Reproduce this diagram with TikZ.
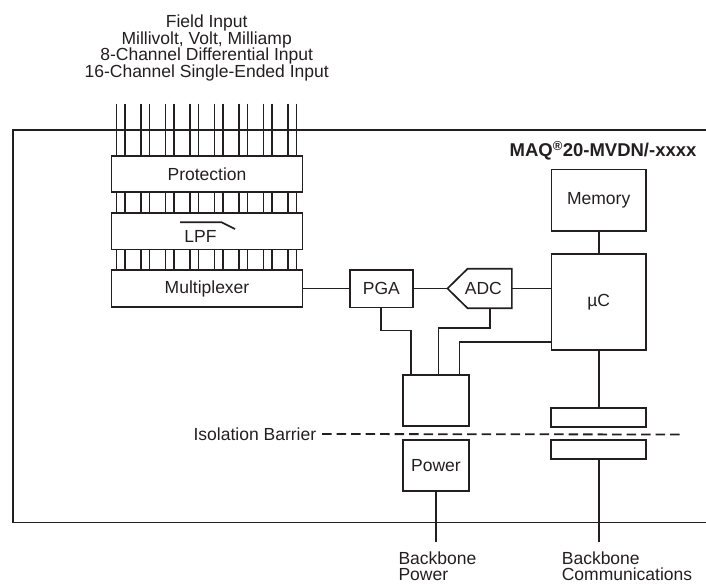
\documentclass[tikz,border=0pt]{standalone}
\usepackage{fontspec}
\setmainfont{Liberation Sans}
\usepackage{tikz}
\usetikzlibrary{arrows.meta,positioning,calc}
\definecolor{ink}{HTML}{231F20}

\begin{document}
\begin{tikzpicture}[
  x=1pt, y=-1pt, color=ink, line width=1.7pt,
  font=\fontsize{17.5}{16.7}\selectfont,
  chan/.style={draw, inner sep=0pt, minimum width=191pt, minimum height=36.5pt},
  blk/.style={draw, inner sep=0pt, minimum width=65.4pt, minimum height=51pt},
  cpl/.style={draw, inner sep=0pt, minimum width=95pt, minimum height=19pt},
  barrier/.style={line width=1.8pt, dash pattern=on 9.5pt off 5pt},
  lbl/.style={inner sep=0pt, align=left}
]
  \useasboundingbox (0,0) rectangle (706,584);
  \node[lbl, align=center, anchor=north] (field) at (206.7,14) {Field Input\\Millivolt, Volt, Milliamp\\8-Channel Differential Input\\16-Channel Single-Ended Input};
  \draw (706,130) -- (13,130) -- (13,522.5) -- (706,522.5);
  \node[lbl, anchor=base east, font=\fontsize{18.5}{20}\selectfont\bfseries] (model) at (697.3,156.7) {MAQ\textsuperscript{\textregistered}20-MVDN/-xxxx};
  \node[chan] (prot) at (207,174) {Protection};
  \node[chan] (lpf) at (207,231.3) {};
  \node[lbl] (lpftxt) at (200.5,236) {LPF};
  \draw (180,222.3) -- (221.7,222.3) -- (235,229);
  \node[chan] (mux) at (207,288.5) {Multiplexer};
  \foreach \i in {0,...,7}
    \foreach \d in {0,8.4} {
      \coordinate (in) at ($(prot.north west)+(5.8+24.5*\i+\d,0)$);
      \draw (in) ++(0,-51.4) -- (in);
      \draw (in |- prot.south) -- (in |- lpf.north);
      \draw (in |- lpf.south) -- (in |- mux.north);
    }
  \node[draw, inner sep=0pt, minimum width=62.7pt, minimum height=37.7pt] (pga) at (381.3,288.5) {PGA};
  \node[inner sep=0pt, minimum width=55.4pt, minimum height=37.7pt] (adc) at (483.3,288.5) {ADC};
  \coordinate (adctip) at ($(adc.west)+(-7.3,0)$);
  \draw ($(adc.north east)+(-44.3,0)$) -- (adc.north east) -- (adc.south east) -- ($(adc.south east)+(-44.3,0)$) -- (adctip) -- cycle;
  \node[draw, inner sep=0pt, minimum width=94.3pt, minimum height=61.7pt] (mem) at (598.7,200.2) {Memory};
  \node[draw, inner sep=0pt, minimum width=94.3pt, minimum height=96pt] (mcu) at (598.7,302) {µC};
  \node[blk] (iso) at (436,400.5) {};
  \node[blk] (pwr) at (436,465.5) {Power};
  \node[cpl] (cpla) at (598.7,417.2) {};
  \node[cpl] (cplb) at (598.7,449.7) {};
  \draw (mux) -- (pga);
  \draw (pga) -- (adctip);
  \draw (adc.east) -- (adc.east -| mcu.west);
  \draw (mem) -- (mcu);
  \draw (mcu) -- (cpla);
  \draw (pga.south) -- ++(0,22.3) -| ($(iso.north west)+(8.4,0)$);
  \draw ($(adc.south east)+(-22.2,0)$) -- ++(0,20) -| ($(iso.north west)+(36,0)$);
  \draw ([yshift=9pt]mcu.south west) -| ($(iso.north west)+(57,0)$);
  \node[lbl, anchor=east] (isotxt) at (317,434) {Isolation Barrier};
  \coordinate (isoend) at (681,434.5);
  \draw[barrier] ([xshift=5pt]isotxt.east) -- (isoend);
  \coordinate (bbpwr) at (436,542.3);
  \coordinate (bbcom) at (598.7,542.3);
  \draw (pwr) -- (bbpwr);
  \draw (cplb) -- (bbcom);
  \node[lbl, anchor=north west] (bbpwrtxt) at (397.7,550.5) {Backbone\\Power};
  \node[lbl, anchor=north west] (bbcomtxt) at (561,550.5) {Backbone\\Communications};
\end{tikzpicture}
\end{document}
